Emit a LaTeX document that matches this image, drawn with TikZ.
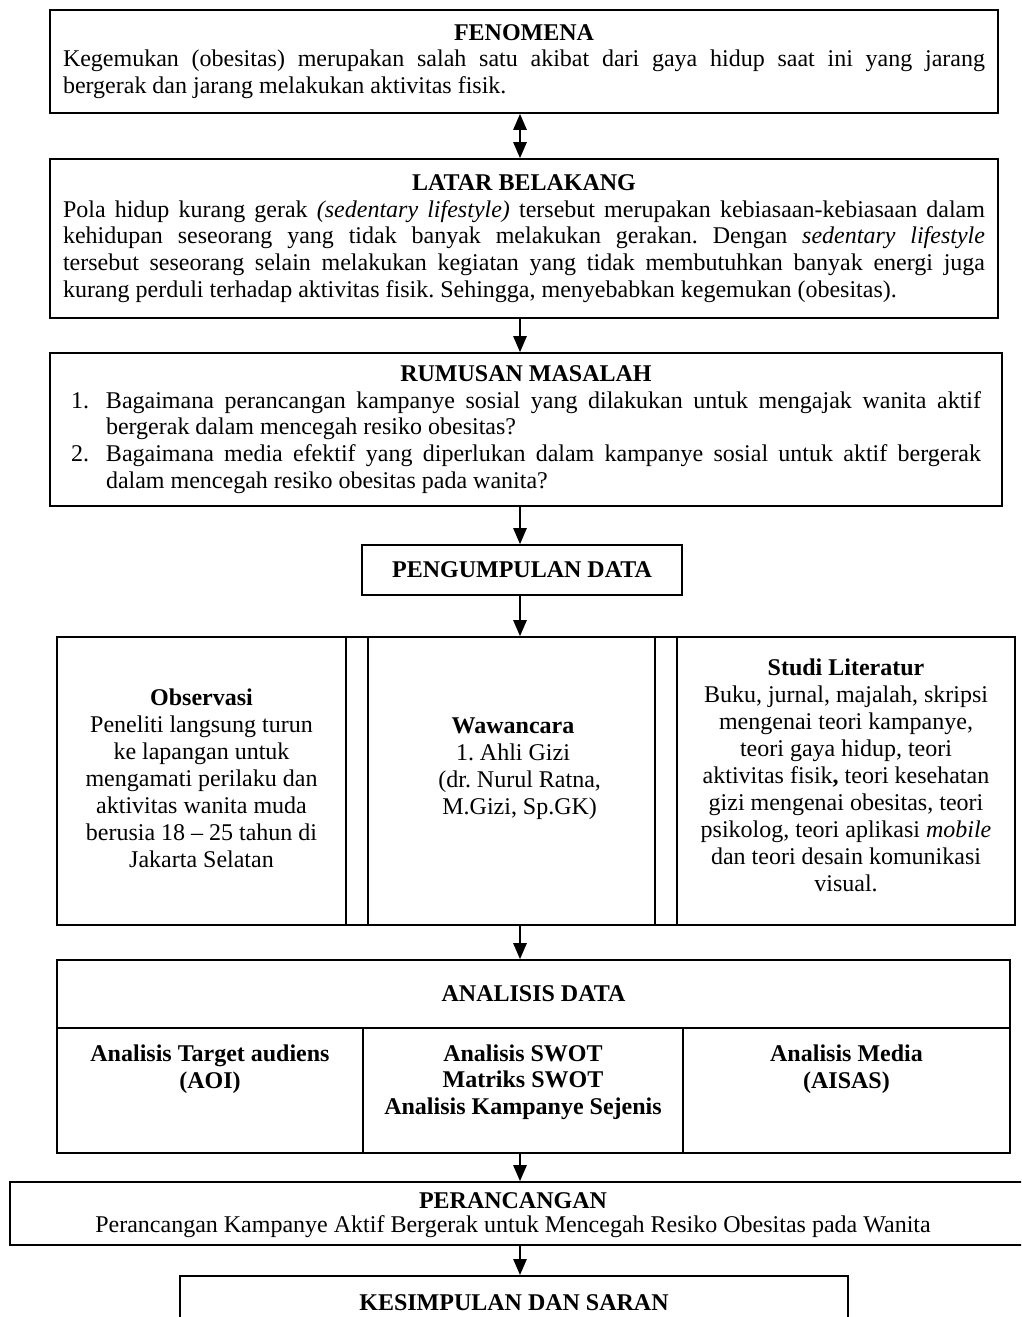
\documentclass[tikz,border=0pt]{standalone}
\usepackage{fontspec}
\setmainfont{Liberation Serif}
\usetikzlibrary{arrows.meta}
\setlength{\parindent}{0pt}
\frenchspacing
\newcommand\fs{\fontsize{18}{20}\selectfont}
\begin{document}
\begin{tikzpicture}[x=0.75pt,y=-0.75pt,
  box/.style={draw,line width=1.3pt,inner sep=0pt},
  rule/.style={line width=1.3pt},
  arr/.style={line width=1.3pt,-{Triangle[length=12pt,width=10pt]}},
  darr/.style={line width=1.3pt,{Triangle[length=12pt,width=10pt]}-{Triangle[length=12pt,width=10pt]}},
  every node/.style={font=\fs}]
\clip (0,0) rectangle (1021,1317);
\fill[white] (0,0) rectangle (1021,1317);
\coordinate (ax) at (520,0);
\tolerance=10000 \hyphenpenalty=10000

% FENOMENA
\node[box, text width=691.5pt, minimum height=77.25pt, inner xsep=9.75pt, align=justify] (fen) at (524,61.5)
{{\centering\bfseries FENOMENA\par}
Kegemukan (obesitas) merupakan salah satu akibat dari gaya hidup saat ini yang jarang\linebreak
bergerak dan jarang melakukan aktivitas fisik.};

% LATAR BELAKANG
\node[box, text width=691.5pt, minimum height=119.25pt, inner xsep=9.75pt, align=justify] (lat) at (524,238.5)
{{\centering\bfseries LATAR BELAKANG\par}
Pola hidup kurang gerak \textit{(sedentary lifestyle)} tersebut merupakan kebiasaan-kebiasaan dalam\linebreak
kehidupan seseorang yang tidak banyak melakukan gerakan. Dengan \textit{sedentary lifestyle}\linebreak
tersebut seseorang selain melakukan kegiatan yang tidak membutuhkan banyak energi juga\linebreak
kurang perduli terhadap aktivitas fisik. Sehingga, menyebabkan kegemukan (obesitas).};

% RUMUSAN MASALAH
\node[box, text width=682.5pt, minimum height=114.75pt, inner xsep=15.75pt, align=justify] (rum) at (526,429.5)
{{\centering\bfseries RUMUSAN MASALAH\par}
\hangindent=26.25pt\hangafter=1\makebox[26.25pt][l]{1.}Bagaimana perancangan kampanye sosial yang dilakukan untuk mengajak wanita aktif\linebreak
bergerak dalam mencegah resiko obesitas?\par
\hangindent=26.25pt\hangafter=1\makebox[26.25pt][l]{2.}Bagaimana media efektif yang diperlukan dalam kampanye sosial untuk aktif bergerak\linebreak
dalam mencegah resiko obesitas pada wanita?\par};

% PENGUMPULAN DATA
\node[box, minimum width=240pt, minimum height=37.5pt, font=\fs\bfseries] (pd) at (522,570) {PENGUMPULAN DATA};

% Three columns
\node[box, minimum width=718.5pt, minimum height=216pt] (pk) at (536,781) {};
\draw[rule] (346,637) -- (346,925);
\draw[rule] (368,637) -- (368,925);
\draw[rule] (655,637) -- (655,925);
\draw[rule] (677,637) -- (677,925);
\node[align=center, font=\fontsize{18}{20.3}\selectfont] (obs) at (201.5,778)
{\textbf{Observasi}\\Peneliti langsung turun\\ke lapangan untuk\\mengamati perilaku dan\\aktivitas wanita muda\\berusia 18 -- 25 tahun di\\Jakarta Selatan};
\node[align=center, font=\fontsize{18}{20.3}\selectfont] (waw) at (513,769)
{\textbf{Wawancara}\\1. Ahli Gizi\\\hspace*{10pt}(dr. Nurul Ratna,\\\hspace*{10pt}M.Gizi, Sp.GK)};
\node[align=center, font=\fontsize{18}{20.3}\selectfont] (stu) at (846,775.5)
{\textbf{Studi Literatur}\\Buku, jurnal, majalah, skripsi\\mengenai teori kampanye,\\teori gaya hidup, teori\\aktivitas fisik\textbf{,} teori kesehatan\\gizi mengenai obesitas, teori\\psikolog, teori aplikasi \textit{mobile}\\dan teori desain komunikasi\\visual.};

% ANALISIS DATA
\node[box, minimum width=714.75pt, minimum height=144.75pt] (ad) at (533.5,1056.5) {};
\draw[rule] (57,1028) -- (1010,1028);
\draw[rule] (363,1028) -- (363,1153);
\draw[rule] (683,1028) -- (683,1153);
\node[font=\fs\bfseries] (adt) at (533.5,994) {ANALISIS DATA};
\node[align=center, font=\fs\bfseries] (ta) at (210,1069) {Analisis Target audiens\\(AOI)};
\node[align=center, font=\fs\bfseries] (sw) at (523,1082) {Analisis SWOT\\Matriks SWOT\\Analisis Kampanye Sejenis};
\node[align=center, font=\fs\bfseries] (md) at (846.5,1069) {Analisis Media\\(AISAS)};

% PERANCANGAN
\node[box, minimum width=768.75pt, minimum height=47.25pt] (per) at (522.5,1213.5) {};
\node[align=center, font=\fontsize{18}{18}\selectfont] (pert) at (513,1215) {\textbf{PERANCANGAN}\\Perancangan Kampanye Aktif Bergerak untuk Mencegah Resiko Obesitas pada Wanita};

% KESIMPULAN
\node[box, minimum width=501pt, minimum height=75pt, anchor=north] (kes) at (514,1275) {};
\node[font=\fs\bfseries] (kest) at (514,1303) {KESIMPULAN DAN SARAN};

% connectors
\draw[darr] (fen.south -| ax) -- (lat.north -| ax);
\draw[arr] (lat.south -| ax) -- (rum.north -| ax);
\draw[arr] (rum.south -| ax) -- (pd.north -| ax);
\draw[arr] (pd.south -| ax) -- (pk.north -| ax);
\draw[arr] (pk.south -| ax) -- (ad.north -| ax);
\draw[arr] (ad.south -| ax) -- (per.north -| ax);
\draw[arr] (per.south -| ax) -- (kes.north -| ax);
\end{tikzpicture}
\end{document}
